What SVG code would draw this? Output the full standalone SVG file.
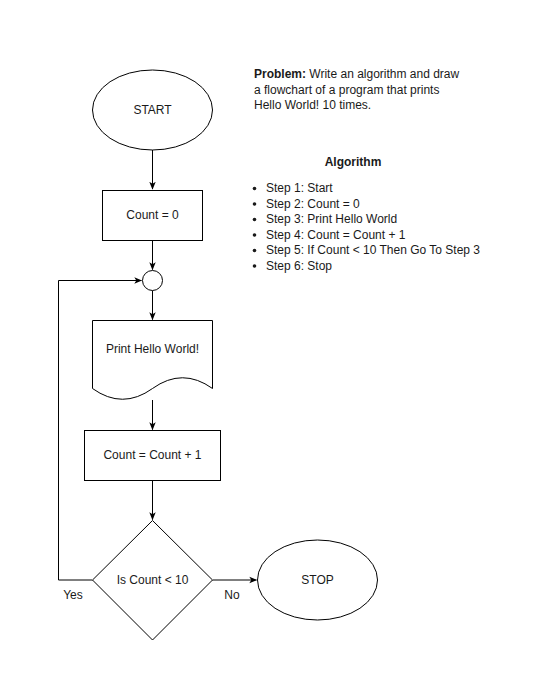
<svg xmlns="http://www.w3.org/2000/svg" width="544" height="692" viewBox="0 0 544 692">
  <style>
    .shape { fill: #ffffff; stroke: #000000; stroke-width: 1; }
    .edge { fill: none; stroke: #000000; stroke-width: 1; }
    text { font-family: "Liberation Sans", Arial, Helvetica, sans-serif; font-size: 12px; fill: #1a1a1a; }
    .c { text-anchor: middle; }
    .b { font-weight: bold; }
  </style>
  <defs>
    <marker id="arrow" viewBox="0 0 10 10" refX="9" refY="5" markerWidth="8" markerHeight="8" markerUnits="userSpaceOnUse" orient="auto">
      <path d="M0,1 L10,5 L0,9 L2.5,5 Z" fill="#000000"/>
    </marker>
  </defs>
  <rect width="544" height="692" fill="#ffffff"/>

  <!-- connectors -->
  <g id="edges">
    <path class="edge" d="M152.5,150 V189" marker-end="url(#arrow)"/>
    <path class="edge" d="M152.5,240 V269.5" marker-end="url(#arrow)"/>
    <path class="edge" d="M152.5,290.5 V319.5" marker-end="url(#arrow)"/>
    <path class="edge" d="M152.5,400 V429.5" marker-end="url(#arrow)"/>
    <path class="edge" d="M152.5,480 V519.5" marker-end="url(#arrow)"/>
    <path class="edge" d="M92.5,580 H58.5 V280.5 H141.5" marker-end="url(#arrow)"/>
    <path class="edge" d="M212.5,580 H256.5" marker-end="url(#arrow)"/>
    <text x="73" y="599" class="c">Yes</text>
    <text x="232" y="599" class="c">No</text>
  </g>

  <g id="start">
    <ellipse class="shape" cx="152.5" cy="110" rx="60" ry="40"/>
    <text x="152.5" y="114" class="c">START</text>
  </g>

  <g id="init">
    <rect class="shape" x="102.5" y="190.5" width="100" height="50"/>
    <text x="152.5" y="219" class="c">Count = 0</text>
  </g>

  <g id="join">
    <circle class="shape" cx="152.5" cy="280.5" r="10"/>
  </g>

  <g id="print">
    <path class="shape" d="M92.5,320.5 H212.5 V388.5 Q182.5,367 152.5,388.5 Q122.5,410 92.5,388.5 Z"/>
    <text x="152.5" y="353" class="c">Print Hello World!</text>
  </g>

  <g id="increment">
    <rect class="shape" x="84.5" y="430.5" width="136" height="50"/>
    <text x="152.5" y="459" class="c">Count = Count + 1</text>
  </g>

  <g id="decision">
    <path class="shape" d="M152.5,520.5 L212.5,580 L152.5,640 L92.5,580 Z"/>
    <text x="152.5" y="584" class="c">Is Count &lt; 10</text>
  </g>

  <g id="stop">
    <ellipse class="shape" cx="317.5" cy="580" rx="60" ry="40"/>
    <text x="317.5" y="584" class="c">STOP</text>
  </g>

  <g id="problem">
    <text x="254" y="78"><tspan class="b">Problem:</tspan> Write an algorithm and draw</text>
    <text x="254" y="94">a flowchart of a program that prints</text>
    <text x="254" y="109">Hello World! 10 times.</text>
  </g>

  <g id="algorithm">
    <text x="353" y="166" class="c b">Algorithm</text>
    <g fill="#1a1a1a">
      <circle cx="254.5" cy="188.5" r="1.8"/>
      <circle cx="254.5" cy="204" r="1.8"/>
      <circle cx="254.5" cy="219.5" r="1.8"/>
      <circle cx="254.5" cy="235" r="1.8"/>
      <circle cx="254.5" cy="250.5" r="1.8"/>
      <circle cx="254.5" cy="266" r="1.8"/>
    </g>
    <text x="266" y="192">Step 1: Start</text>
    <text x="266" y="208">Step 2: Count = 0</text>
    <text x="266" y="223">Step 3: Print Hello World</text>
    <text x="266" y="239">Step 4: Count = Count + 1</text>
    <text x="266" y="254">Step 5: If Count &lt; 10 Then Go To Step 3</text>
    <text x="266" y="270">Step 6: Stop</text>
  </g>
</svg>
